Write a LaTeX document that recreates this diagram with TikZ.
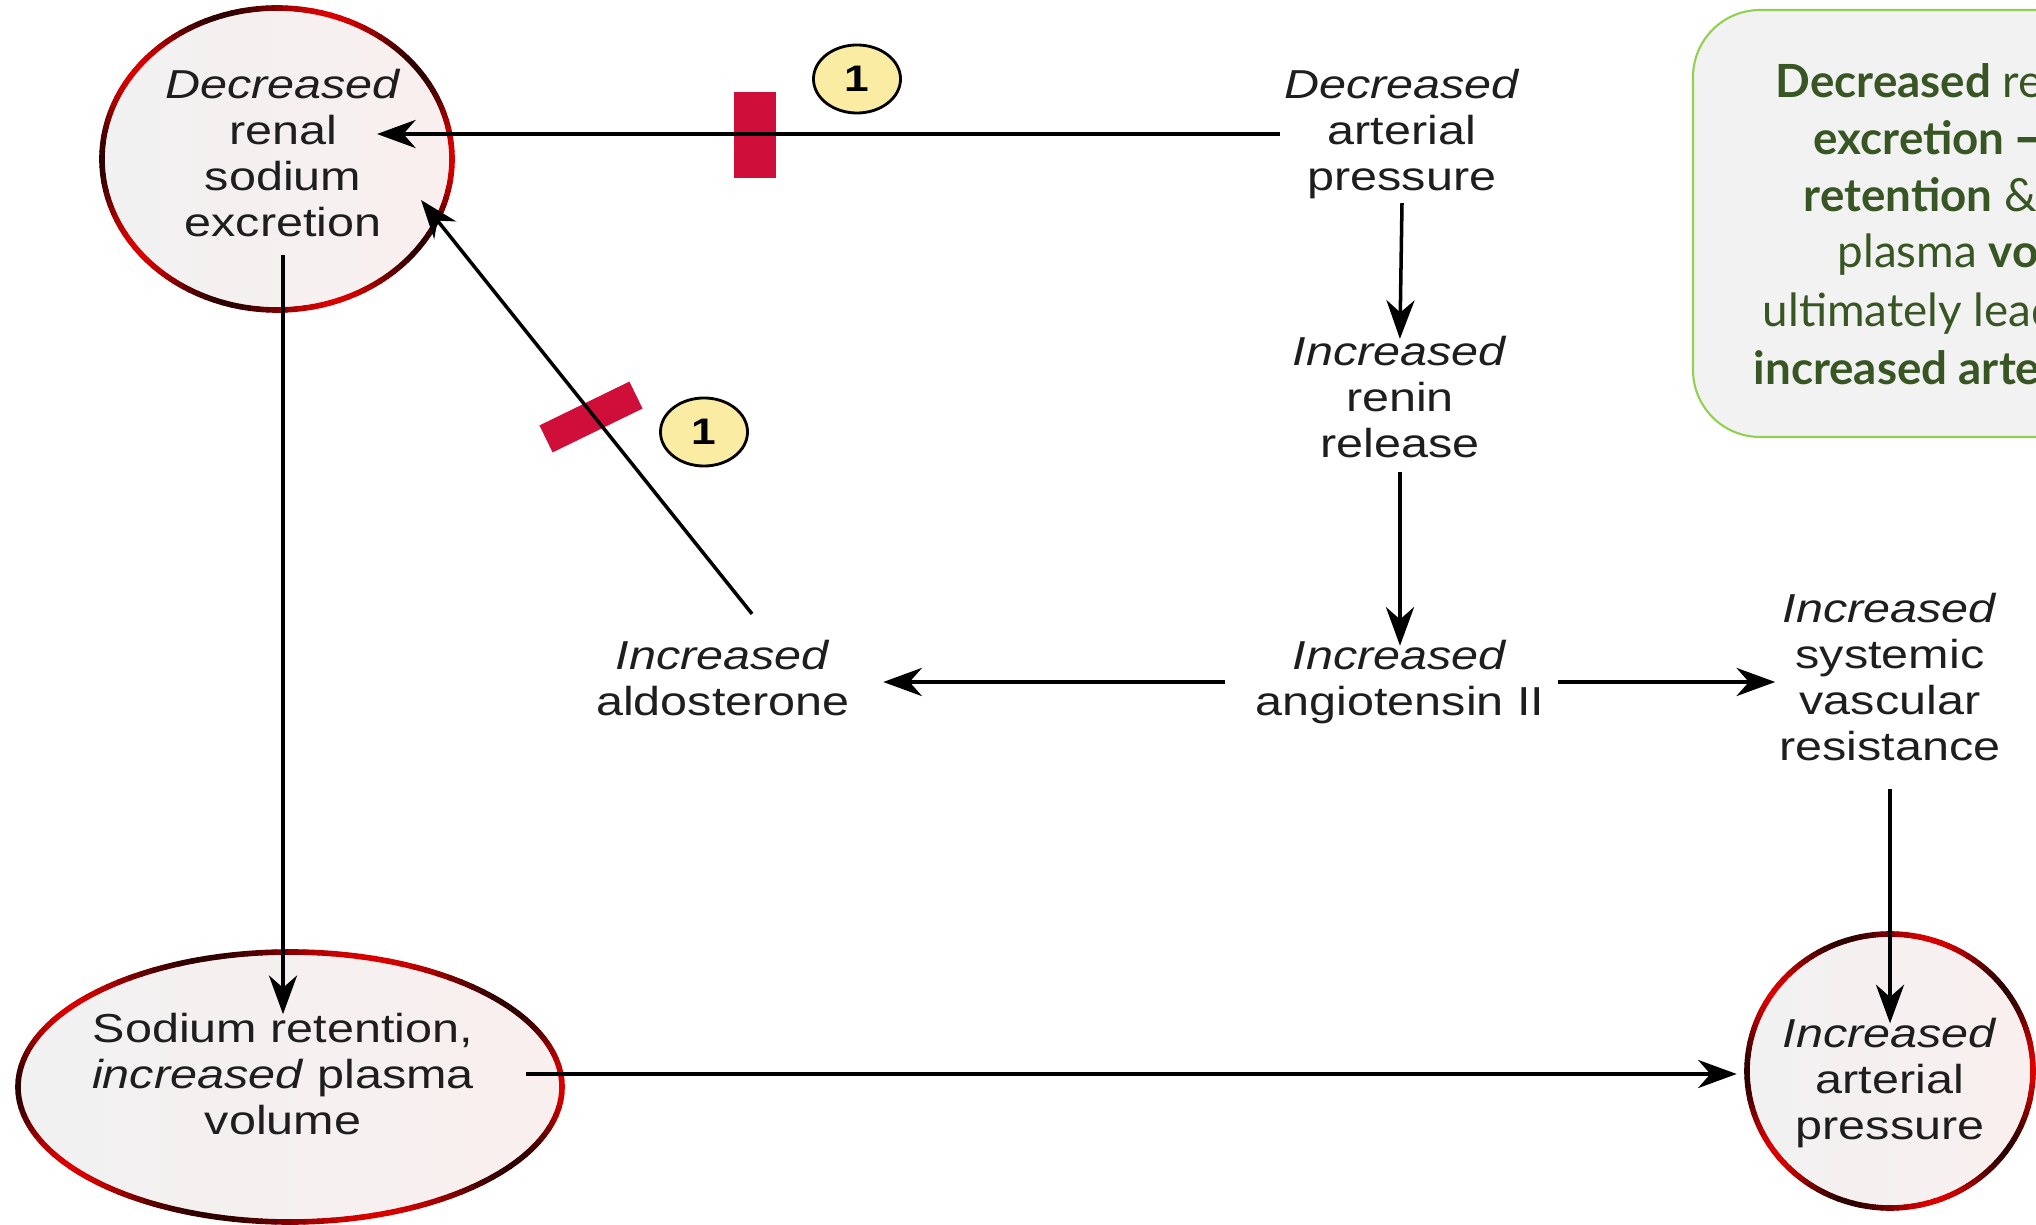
\documentclass[tikz,border=0pt]{standalone}
\usepackage{fontspec}
\setmainfont{Liberation Sans}[FakeStretch=1.2]
\newfontfamily\notefont{Lato}
\newfontfamily\arrowfont{DejaVu Sans}
\usetikzlibrary{arrows.meta,shapes.geometric}

\definecolor{textgrey}{RGB}{30,30,30}
\definecolor{ringL}{RGB}{241,241,241}
\definecolor{ringR}{RGB}{250,239,239}
\definecolor{blockred}{RGB}{208,14,58}
\definecolor{badgefill}{RGB}{250,236,162}
\definecolor{noteback}{RGB}{242,242,242}
\definecolor{noteedge}{RGB}{146,208,80}
\definecolor{notegreen}{RGB}{55,86,35}

\tikzset{
  txt/.style={align=center, inner sep=1pt, text=textgrey, font=\fontsize{11.5pt}{13.1pt}\selectfont},
  flow/.style={-{Stealth[length=11pt,width=8pt,inset=3.5pt]}, line width=1pt},
  blocker/.style={fill=blockred, inner sep=0pt, minimum width=0.41cm, minimum height=0.86cm},
  badge/.style={ellipse, draw, line width=0.8pt, fill=badgefill, inner sep=0pt,
    minimum width=0.87cm, minimum height=0.68cm, font=\bfseries\fontsize{10.5pt}{10.5pt}\selectfont},
  ringline/.style={line width=1.6pt, line cap=round},
  notebox/.style={draw=noteedge, line width=0.6pt, fill=noteback, rounded corners=0.67cm},
  noteline/.style={anchor=base west, inner sep=0pt, text=notegreen, font=\notefont\fontsize{13pt}{16pt}\selectfont}
}

% shaded ellipse with a dark/bright red rim
\newcommand{\gradring}[4]{%
  \shade[left color=ringL, right color=ringR] (#1,#2) ellipse [x radius=#3, y radius=#4];
  \foreach \a in {0,3,...,357}{
    \pgfmathtruncatemacro{\m}{52+34*cos(5*(\a+1.5))}
    \draw[ringline, red!\m!black] (#1,#2) ++(\a:#3 and #4) arc[start angle=\a, end angle=\a+3, x radius=#3, y radius=#4];
  }%
}

\begin{document}
\begin{tikzpicture}[x=0.01cm, y=-0.01cm]
  \useasboundingbox (0,0) rectangle (2036,1225);
  \clip (0,0) rectangle (2036,1225);

  % note box, cut by the right edge
  \draw[notebox] (1693,10) rectangle (2300,437);
  \foreach \n/\x/\y/\t in {1/1775/98/{\textbf{Decreased} renal sodium},
      2/1813/155/{\textbf{excretion {\arrowfont →} sodium}},
      3/1803/212/{\textbf{retention} \& increased},
      4/1837/268/{plasma \textbf{volume}},
      5/1762/327/{ultimately leads to},
      6/1753/385/{\textbf{increased arterial pressure}}}
    \node[noteline] (note\n) at (\x,\y) {\t};

  % highlighted states
  \gradring{277}{159}{175}{151}
  \gradring{290}{1087}{272}{135}
  \gradring{1890}{1071}{143}{137}

  \node[txt] (renNa) at (283,153) {\textit{Decreased}\\renal\\sodium\\excretion};
  \node[txt] (decAP) at (1402,134) {\textit{Decreased}\\arterial\\pressure};
  \node[txt] (renin) at (1400,397) {\textit{Increased}\\renin\\release};
  \node[txt] (angII) at (1400,682) {\textit{Increased}\\angiotensin II};
  \node[txt] (aldo) at (723,678) {\textit{Increased}\\aldosterone};
  \node[txt] (svr) at (1890,677) {\textit{Increased}\\systemic\\vascular\\resistance};
  \node[txt] (naRet) at (283,1074) {Sodium retention,\\\textit{increased} plasma\\volume};
  \node[txt] (incAP) at (1890,1083) {\textit{Increased}\\arterial\\pressure};

  % blocked pathways
  \node[blocker] (blkTop) at (755,135) {};
  \node[badge] (oneTop) at (857,79) {1};
  \node[blocker, minimum width=1cm, minimum height=0.3cm, rotate=26] (blkDiag) at (591,417) {};
  \node[badge] (oneDiag) at (704,432) {1};

  % connectors
  \coordinate (renTip) at (377,135);
  \coordinate (renDiag) at (421,200);
  \draw[flow] (decAP.west) -- (decAP.west -| renTip);
  \draw[flow, shorten >=-2pt] (decAP.south) -- (renin.north);
  \draw[flow, shorten <=2.7pt, shorten >=-2.8pt] (renin.south) -- (angII.north);
  \draw[flow, shorten <=7.4pt, shorten >=8.3pt] (angII.west) -- (angII.west -| aldo.east);
  \draw[flow, shorten <=2.8pt] (angII.east) -- (angII.east -| svr.west);
  \draw[flow, shorten <=6.7pt, shorten >=-2.7pt] (svr.south) -- (incAP.north);
  \draw[flow] ([xshift=0.29cm, yshift=0.22cm]aldo.north) -- (renDiag);
  \draw[flow, shorten <=4pt, shorten >=-1.5pt] (renNa.south) -- (naRet.north);
  \draw[flow, shorten <=13.7pt, shorten >=11.9pt] (naRet.east) -- (naRet.east -| incAP.west);
\end{tikzpicture}
\end{document}
